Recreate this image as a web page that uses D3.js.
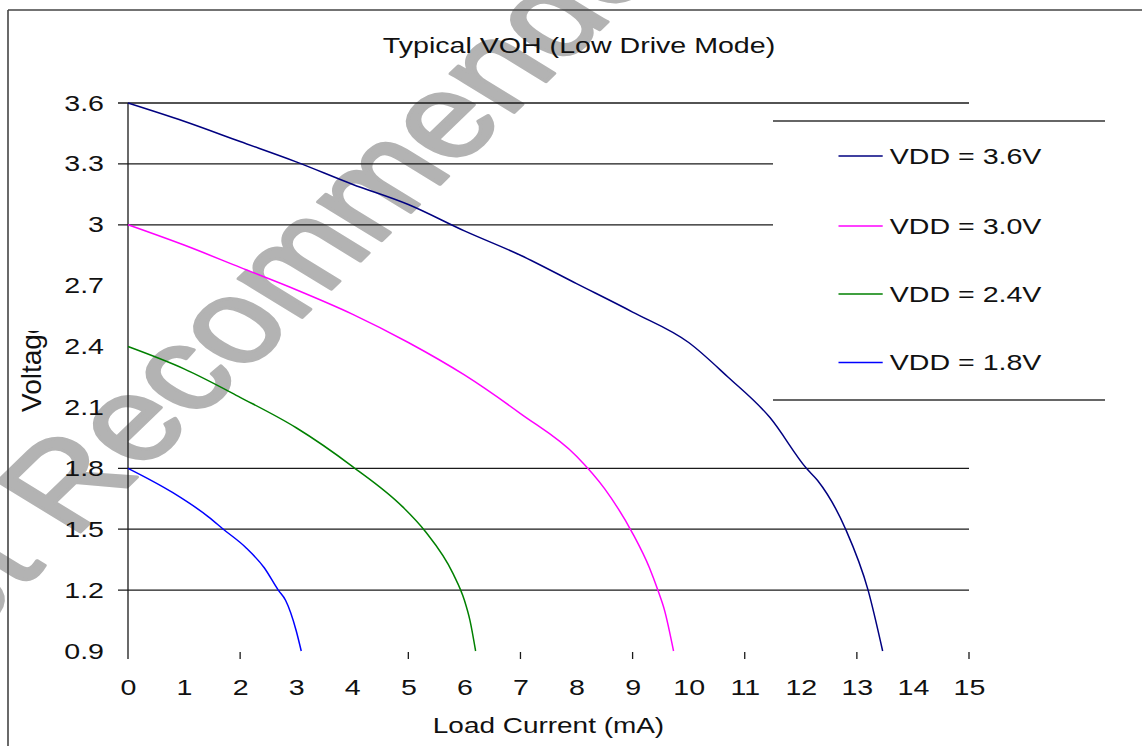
<!DOCTYPE html>
<html>
<head>
<meta charset="utf-8">
<script src="https://cdn.jsdelivr.net/npm/d3@7"></script>
<style>
  body { margin: 0; background: #fff; }
  svg { display: block; }
  text { font-family: "Liberation Sans", Arial, sans-serif; fill: #111; }
</style>
</head>
<body>
<svg id="chart" width="1142" height="746"></svg>
<script>
// ---------------- data ----------------
const chartTitle = "Typical VOH (Low Drive Mode)";
const xTitle = "Load Current (mA)";
const yTitle = "Voltage";
const watermark = "Not Recommended for New Design";

const seriesNames = ["VDD = 3.6V", "VDD = 3.0V", "VDD = 2.4V", "VDD = 1.8V"];
const seriesColors = ["#000080", "#ff00ff", "#008000", "#0000ff"];

const current36 = [0, 1, 2, 3, 4, 5, 6, 7, 8, 9, 10, 10.7, 11.45, 12.1, 12.3, 12.8, 13.2, 13.46];
const voh36     = [3.6, 3.51, 3.41, 3.31, 3.20, 3.10, 2.97, 2.85, 2.71, 2.57, 2.42, 2.25, 2.05, 1.80, 1.74, 1.50, 1.20, 0.90];

const current30 = [0, 1, 2, 3, 4, 5, 6, 7, 8, 8.5, 9, 9.3, 9.45, 9.57, 9.73];
const voh30     = [3.0, 2.90, 2.79, 2.68, 2.56, 2.42, 2.26, 2.07, 1.86, 1.70, 1.48, 1.31, 1.20, 1.10, 0.90];

const current24 = [0, 1, 2, 3, 4, 4.9, 5.3, 5.8, 6.0, 6.1, 6.2];
const voh24     = [2.4, 2.29, 2.15, 2.0, 1.81, 1.61, 1.49, 1.28, 1.15, 1.05, 0.90];

const current18 = [0, 0.8, 1.44, 1.7, 2.1, 2.43, 2.68, 2.81, 3.0, 3.09];
const voh18     = [1.8, 1.68, 1.56, 1.5, 1.41, 1.31, 1.2, 1.15, 1.0, 0.9];

const xTickLabels = [0, 1, 2, 3, 4, 5, 6, 7, 8, 9, 10, 11, 12, 13, 14, 15];
const xTickMarks  = [2, 5, 7, 9, 11, 13, 15];
const yTickLabels = [0.9, 1.2, 1.5, 1.8, 2.1, 2.4, 2.7, 3.0, 3.3, 3.6];
const yGridLong   = [3.6, 1.8, 1.5, 1.2];
const yGridShort  = [3.3, 3.0];

// ---------------- layout ----------------
const SX = 1.3;            // horizontal text stretch seen in the picture
const svg = d3.select("#chart");
const x = d3.scaleLinear().domain([0, 15]).range([128, 969]);
const y = d3.scaleLinear().domain([0.9, 3.6]).range([651, 103]);

const seriesX = [current36, current30, current24, current18];
const seriesY = [voh36, voh30, voh24, voh18];

function stretchedText(px, py, str, size, anchor) {
  const g = svg.append("g").attr("transform", `translate(${px},${py}) scale(${SX},1)`);
  return g.append("text").attr("text-anchor", anchor || "start")
    .style("font-size", size + "px").text(str);
}

// watermark (behind everything)
{
  const fs = 118;
  const tmp = svg.append("text").style("font-size", fs + "px").text("Not ");
  const w = tmp.node().getComputedTextLength();
  tmp.remove();
  svg.append("text")
    .attr("transform", `translate(46,565) scale(${SX},1) rotate(-51.5)`)
    .attr("x", -w)
    .style("font-size", fs + "px")
    .style("fill", "#b3b3b3")
    .style("stroke", "#b3b3b3").style("stroke-width", 3).style("stroke-linejoin", "round")
    .text(watermark);
}

// outer frame (top + left visible)
svg.append("line").attr("x1", 8).attr("x2", 1142).attr("y1", 10).attr("y2", 10)
  .attr("stroke", "#444").attr("stroke-width", 1.6);
svg.append("line").attr("x1", 8).attr("x2", 8).attr("y1", 10).attr("y2", 746)
  .attr("stroke", "#444").attr("stroke-width", 1.6);

// title
stretchedText(579, 53, chartTitle, 22, "middle");

// grid lines (with left tick stub)
svg.append("g").selectAll("line").data(yGridLong).join("line")
  .attr("x1", 118).attr("x2", x(15))
  .attr("y1", d => y(d)).attr("y2", d => y(d))
  .attr("stroke", "#1a1a1a").attr("stroke-width", 1.3);
svg.append("g").selectAll("line").data(yGridShort).join("line")
  .attr("x1", 118).attr("x2", 773)
  .attr("y1", d => y(d)).attr("y2", d => y(d))
  .attr("stroke", "#1a1a1a").attr("stroke-width", 1.3);

// y axis
const yAxis = svg.append("g").attr("transform", `translate(${x(0)},0)`)
  .call(d3.axisLeft(y).tickValues(yTickLabels).tickSize(0).tickPadding(24 / SX)
    .tickFormat(d => String(d)));
yAxis.select(".domain").remove();
yAxis.selectAll("text").attr("transform", `scale(${SX},1)`)
  .style("font-size", "22px").style("font-family", '"Liberation Sans", Arial, sans-serif')
  .attr("fill", "#111");
svg.append("line").attr("x1", x(0)).attr("x2", x(0)).attr("y1", y(3.6)).attr("y2", 659)
  .attr("stroke", "#1a1a1a").attr("stroke-width", 1.3);

// x axis labels
const xAxis = svg.append("g").attr("transform", `translate(0,${y(0.9)})`)
  .call(d3.axisBottom(x).tickValues(xTickLabels).tickSize(0).tickPadding(28.4));
xAxis.select(".domain").remove();
xAxis.selectAll("text").attr("transform", `scale(${SX},1)`)
  .style("font-size", "22px").style("font-family", '"Liberation Sans", Arial, sans-serif')
  .attr("fill", "#111");
// x tick marks
svg.append("g").selectAll("line").data(xTickMarks).join("line")
  .attr("x1", d => x(d)).attr("x2", d => x(d)).attr("y1", 652).attr("y2", 659)
  .attr("stroke", "#1a1a1a").attr("stroke-width", 1.3);

// axis titles
stretchedText((x(0) + x(15)) / 2, 733, xTitle, 21.5, "middle");
svg.append("clipPath").attr("id", "ytclip").append("rect")
  .attr("x", 0).attr("y", 331).attr("width", 60).attr("height", 120);
svg.append("g").attr("clip-path", "url(#ytclip)")
  .append("text")
  .attr("transform", "translate(40.7,412) rotate(-90)")
  .style("font-size", "28px").text(yTitle);

// series lines
const line = d3.line().x(d => x(d[0])).y(d => y(d[1])).curve(d3.curveMonotoneX);
seriesX.forEach((xs, i) => {
  const pts = xs.map((v, j) => [v, seriesY[i][j]]);
  svg.append("path").datum(pts).attr("d", line)
    .attr("fill", "none").attr("stroke", seriesColors[i]).attr("stroke-width", 1.5);
});

// legend box (white, top/bottom borders)
svg.append("rect").attr("x", 773).attr("y", 121).attr("width", 332).attr("height", 279)
  .attr("fill", "#fff");
svg.append("line").attr("x1", 773).attr("x2", 1105).attr("y1", 121).attr("y2", 121)
  .attr("stroke", "#333").attr("stroke-width", 1.5);
svg.append("line").attr("x1", 773).attr("x2", 1105).attr("y1", 400).attr("y2", 400)
  .attr("stroke", "#333").attr("stroke-width", 1.5);
const legendY = [156, 226, 294, 362.5];
seriesNames.forEach((name, i) => {
  svg.append("line").attr("x1", 838.5).attr("x2", 882.7)
    .attr("y1", legendY[i]).attr("y2", legendY[i])
    .attr("stroke", seriesColors[i]).attr("stroke-width", 1.5);
  stretchedText(889.7, legendY[i], name, 22, "start").attr("dy", "0.36em");
});
</script>
</body>
</html>
